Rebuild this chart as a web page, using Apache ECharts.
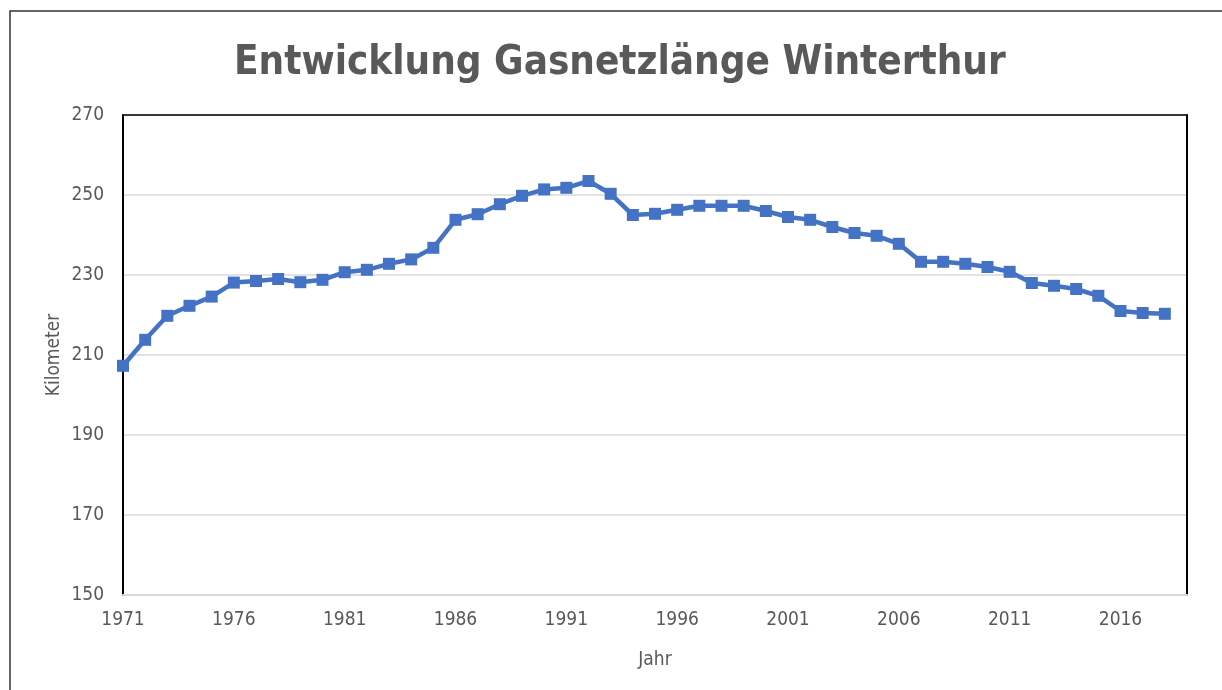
<!DOCTYPE html>
<html>
<head>
<meta charset="utf-8">
<script src="https://cdn.jsdelivr.net/npm/echarts@6/dist/echarts.min.js"></script>
<style>
  html, body { margin: 0; padding: 0; background: #fff; }
  #chart { width: 1222px; height: 690px; }
</style>
</head>
<body>
<div id="chart"></div>
<script>
const titleText = 'Entwicklung Gasnetzlänge Winterthur';
const yAxisName = 'Kilometer';
const xAxisName = 'Jahr';
const years = [];
for (let y = 1971; y <= 2019; y++) years.push(String(y));
const kilometers = [
  207.3, 213.8, 219.8, 222.3, 224.6, 228.1, 228.5, 229.0, 228.2, 228.8,
  230.7, 231.3, 232.8, 233.9, 236.8, 243.8, 245.2, 247.7, 249.8, 251.4,
  251.8, 253.5, 250.3, 245.0, 245.3, 246.3, 247.3, 247.3, 247.3, 246.0,
  244.5, 243.8, 242.0, 240.5, 239.8, 237.8, 233.3, 233.3, 232.8, 232.0,
  230.8, 228.0, 227.3, 226.5, 224.8, 221.0, 220.5, 220.3, null
];
const yMin = 150, yMax = 270, yStep = 20;

const labelFont = '"DejaVu Sans Condensed", sans-serif';
const chart = echarts.init(document.getElementById('chart'), null, { renderer: 'canvas' });
chart.setOption({
  animation: false,
  backgroundColor: '#ffffff',
  graphic: [{
    type: 'rect', silent: true, z: -10,
    shape: { x: 10, y: 11, width: 1400, height: 1000 },
    style: { fill: 'none', stroke: '#333', lineWidth: 1.5 }
  }],
  title: {
    text: titleText,
    left: 229, top: 39,
    textStyle: { fontFamily: labelFont, fontWeight: 'bold', fontSize: 40, color: '#595959' }
  },
  grid: { left: 123, right: 35, top: 115, bottom: 95, containLabel: false },
  xAxis: [{
    type: 'category', data: years, boundaryGap: false,
    name: xAxisName, nameLocation: 'middle', nameGap: 56,
    nameTextStyle: { fontFamily: labelFont, fontSize: 19, color: '#595959' },
    axisLine: { show: true, lineStyle: { color: '#d9d9d9', width: 2 } },
    axisTick: { show: false },
    axisLabel: { interval: 4, margin: 16, fontFamily: labelFont, fontSize: 19, color: '#595959' },
    splitLine: { show: false }
  }, {
    type: 'category', data: years, boundaryGap: false, position: 'top',
    axisLine: { show: true, lineStyle: { color: '#000', width: 1.5 } },
    axisTick: { show: false }, axisLabel: { show: false }
  }],
  yAxis: [{
    type: 'value', min: yMin, max: yMax, interval: yStep,
    name: yAxisName, nameLocation: 'middle', nameGap: 59, nameMoveOverlap: false,
    nameTextStyle: { fontFamily: labelFont, fontSize: 19, color: '#595959' },
    axisLine: { show: true, lineStyle: { color: '#000', width: 2 } },
    axisTick: { show: false },
    axisLabel: { margin: 19, fontFamily: labelFont, fontSize: 19, color: '#595959' },
    splitLine: { show: true, lineStyle: { color: '#d9d9d9', width: 1.5 } }
  }, {
    type: 'value', min: yMin, max: yMax, interval: yStep, position: 'right',
    axisLine: { show: true, lineStyle: { color: '#000', width: 2 } },
    axisTick: { show: false }, axisLabel: { show: false }, splitLine: { show: false }
  }],
  series: [{
    type: 'line', data: kilometers,
    xAxisIndex: 0, yAxisIndex: 0,
    symbol: 'rect', symbolSize: 12, showSymbol: true,
    lineStyle: { color: '#4472C4', width: 4.5 },
    itemStyle: { color: '#4472C4' },
    z: 5
  }]
});
</script>
</body>
</html>
